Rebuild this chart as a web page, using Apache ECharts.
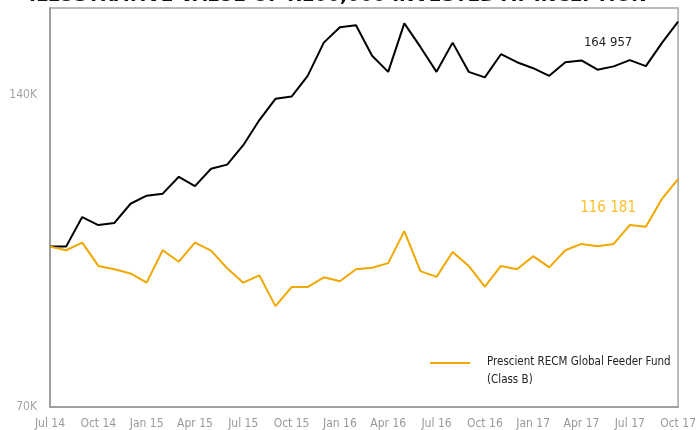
<!DOCTYPE html>
<html>
<head>
<meta charset="utf-8">
<script src="https://cdn.jsdelivr.net/npm/echarts@6/dist/echarts.min.js"></script>
<style>
  html, body { margin: 0; padding: 0; background: #fff; }
  #chart { width: 699px; height: 430px; }
</style>
</head>
<body>
<div id="chart"></div>
<script>
var months = ['Jul 14', 'Aug 14', 'Sep 14', 'Oct 14', 'Nov 14', 'Dec 14',
    'Jan 15', 'Feb 15', 'Mar 15', 'Apr 15', 'May 15', 'Jun 15',
    'Jul 15', 'Aug 15', 'Sep 15', 'Oct 15', 'Nov 15', 'Dec 15',
    'Jan 16', 'Feb 16', 'Mar 16', 'Apr 16', 'May 16', 'Jun 16',
    'Jul 16', 'Aug 16', 'Sep 16', 'Oct 16', 'Nov 16', 'Dec 16',
    'Jan 17', 'Feb 17', 'Mar 17', 'Apr 17', 'May 17', 'Jun 17',
    'Jul 17', 'Aug 17', 'Sep 17', 'Oct 17'];

// benchmark (black line)
var benchmark = [100000, 100000, 106800, 104900, 105400, 110000,
    112000, 112500, 116800, 114400, 118900, 120000,
    125300, 132500, 138900, 139600, 146200, 157400,
    162900, 163600, 152900, 147500, 164300, 155900,
    147500, 157400, 147500, 145700, 153400, 150700,
    148700, 146200, 150700, 151300, 148200, 149300,
    151400, 149400, 157300, 164957];

// fund (orange line)
var fund = [100000, 99200, 100900, 95800, 95100, 94200,
    92300, 99200, 96700, 100900, 99100, 95300,
    92300, 93800, 87600, 91400, 91400, 93400,
    92600, 95100, 95400, 96400, 103500, 94700,
    93500, 98800, 95800, 91500, 95800, 95100,
    97900, 95500, 99200, 100600, 100100, 100600,
    104900, 104500, 111200, 116181];

var yTicks = [70000, 140000];
var fundName = 'Prescient RECM Global Feeder Fund\n(Class B)';

var narrow = "'Liberation Sans Narrow', 'DejaVu Sans Condensed', 'Roboto', sans-serif";

function spaced(v) {
    return String(v).replace(/\B(?=(\d{3})+(?!\d))/g, ' ');
}

var myChart = echarts.init(document.getElementById('chart'));

var last = months.length - 1;

option = {
    animation: false,
    title: {
        text: 'ILLUSTRATIVE VALUE OF R100,000 INVESTED AT INCEPTION',
        left: 24,
        top: -18,
        textStyle: {
            fontFamily: 'DejaVu Sans',
            fontWeight: 'bold',
            fontSize: 18.5,
            color: '#111'
        }
    },
    legend: {
        data: [fundName],
        left: 425,
        top: 348,
        itemWidth: 52,
        itemHeight: 18,
        icon: 'path://M0,0H40V2H0Z M0,18L52,18',
        itemStyle: { borderWidth: 0 },
        textStyle: {
            fontFamily: narrow,
            fontSize: 11.5,
            lineHeight: 18,
            color: '#222'
        }
    },
    grid: {
        left: 50,
        right: 16,
        top: 8,
        bottom: 23,
        show: true,
        borderColor: '#a6a6a6',
        borderWidth: 1.5
    },
    xAxis: {
        type: 'category',
        data: months,
        boundaryGap: false,
        axisLine: { lineStyle: { color: '#a0a0a0', width: 2 } },
        axisTick: { show: false },
        axisLabel: {
            interval: 2,
            margin: 11,
            fontFamily: narrow,
            fontSize: 12,
            color: '#999'
        }
    },
    yAxis: {
        type: 'log',
        logBase: 2,
        min: 70000,
        max: 170000,
        axisLine: { show: true, lineStyle: { color: '#a0a0a0', width: 2 } },
        axisTick: { show: false },
        splitLine: { show: false },
        axisLabel: {
            customValues: yTicks,
            margin: 13,
            fontFamily: narrow,
            fontSize: 12,
            color: '#a3a3a3',
            formatter: function (v) { return Math.round(v / 1000) + 'K'; }
        }
    },
    series: [
        {
            name: 'Benchmark',
            type: 'line',
            data: benchmark,
            symbol: 'none',
            lineStyle: { color: '#000', width: 2 },
            itemStyle: { color: '#000' },
            markPoint: {
                symbol: 'circle',
                symbolSize: 0,
                data: [{ coord: [last, benchmark[last]], value: benchmark[last] }],
                label: {
                    show: true,
                    offset: [-70, 21],
                    fontFamily: narrow,
                    fontSize: 13,
                    color: '#222',
                    formatter: function (p) { return spaced(p.value); }
                }
            }
        },
        {
            name: fundName,
            type: 'line',
            data: fund,
            symbol: 'none',
            lineStyle: { color: '#f0a800', width: 2 },
            itemStyle: { color: '#f0a800' },
            markPoint: {
                symbol: 'circle',
                symbolSize: 0,
                data: [{ coord: [last, fund[last]], value: fund[last] }],
                label: {
                    show: true,
                    offset: [-70, 29],
                    fontFamily: narrow,
                    fontSize: 15,
                    color: '#f9bf2a',
                    formatter: function (p) { return spaced(p.value); }
                }
            }
        }
    ]
};

myChart.setOption(option);
</script>
</body>
</html>
